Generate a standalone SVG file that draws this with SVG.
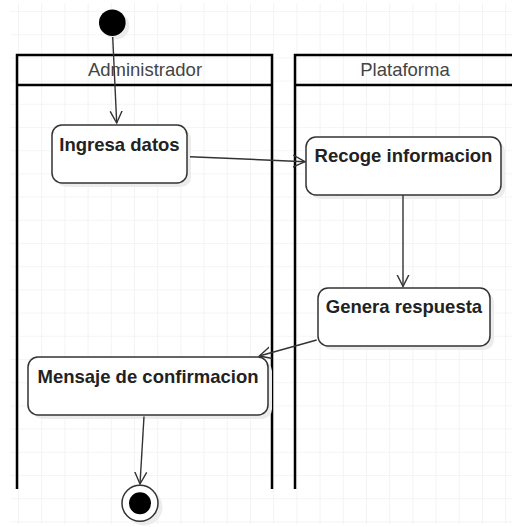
<svg xmlns="http://www.w3.org/2000/svg" width="512" height="527" viewBox="0 0 512 527">
<defs>
<pattern id="grid" patternUnits="userSpaceOnUse" x="18" y="11" width="23.2" height="23.2">
<path d="M0,0 H23.2 M0,0 V23.2" stroke="#ebebeb" stroke-width="1.2" fill="none"/>
</pattern>
<marker id="arr" markerUnits="userSpaceOnUse" markerWidth="14" markerHeight="14" refX="12" refY="6" orient="auto" viewBox="0 0 14 12">
<path d="M0,0 L12,6 L0,12" fill="none" stroke="#333" stroke-width="1.4"/>
</marker>
</defs>
<style>
.lane{fill:none;stroke:#000;stroke-width:2.5}
.hdr{font-family:"Liberation Sans",Arial,sans-serif;font-size:18.5px;fill:#444;text-anchor:middle}
.node rect.b{fill:#fff;stroke:#333;stroke-width:1.5}
.node rect.s{fill:#ececec}
.node text{font-family:"Liberation Sans",Arial,sans-serif;font-size:18.5px;font-weight:bold;fill:#222;text-anchor:middle}
.edge{fill:none;stroke:#333;stroke-width:1.4;marker-end:url(#arr)}
</style>
<rect x="10" y="3" width="502" height="521" fill="#fff"/>
<rect x="10" y="3" width="502" height="521" fill="url(#grid)"/>

<g id="lane-admin">
<path class="lane" d="M17,489 V55 H272 V489 M17,85 H272"/>
<text class="hdr" x="145" y="76">Administrador</text>
</g>
<g id="lane-plataforma">
<path class="lane" d="M295,489 V55 H514 M295,85 H514"/>
<text class="hdr" x="405" y="76">Plataforma</text>
</g>

<g id="start" class="node">
<circle cx="116" cy="26" r="13.3" fill="#ececec"/>
<circle cx="112.3" cy="22.7" r="13.3" fill="#000"/>
</g>

<g id="ingresa" class="node">
<rect class="s" x="56" y="129" width="135" height="58" rx="10"/>
<rect class="b" x="52" y="125" width="135" height="58" rx="10"/>
<text x="119.5" y="150.5">Ingresa datos</text>
</g>

<g id="recoge" class="node">
<rect class="s" x="310" y="141" width="195" height="58" rx="10"/>
<rect class="b" x="306" y="137" width="195" height="58" rx="10"/>
<text x="403.5" y="162">Recoge informacion</text>
</g>

<g id="genera" class="node">
<rect class="s" x="322" y="292" width="172" height="58" rx="10"/>
<rect class="b" x="318" y="288" width="172" height="58" rx="10"/>
<text x="404" y="313">Genera respuesta</text>
</g>

<g id="mensaje" class="node">
<rect class="s" x="32" y="361" width="240" height="58" rx="10"/>
<rect class="b" x="28" y="357" width="240" height="58" rx="10"/>
<text x="148" y="382.5">Mensaje de confirmacion</text>
</g>

<g id="end" class="node">
<circle cx="144" cy="507" r="18.5" fill="#ececec"/>
<circle cx="140" cy="503.3" r="18" fill="#fff" stroke="#333" stroke-width="1.5"/>
<circle cx="140" cy="503.3" r="11" fill="#000"/>
</g>

<g id="connectors">
<path class="edge" d="M112.7,37 L116.7,123"/>
<path class="edge" d="M190,156.7 L305,161.7"/>
<path class="edge" d="M403,195 L403,286.5"/>
<path class="edge" d="M316.7,340 L259.3,356"/>
<path class="edge" d="M144,416.5 L140,484"/>
</g>
</svg>
